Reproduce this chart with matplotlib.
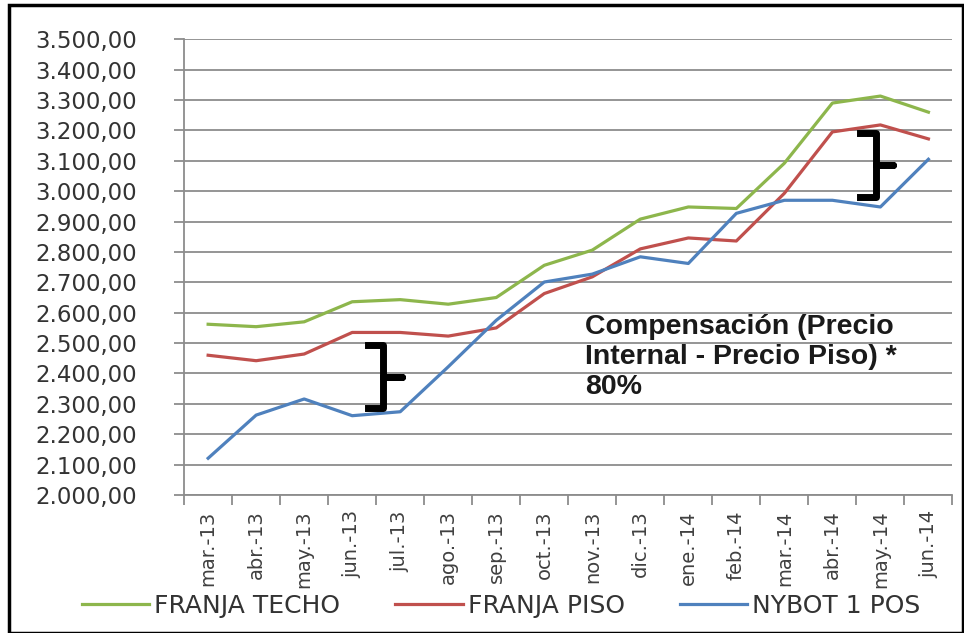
import matplotlib
matplotlib.use("Agg")
import matplotlib.pyplot as plt
from matplotlib.patches import Rectangle

# months on the x axis
months = ["mar.-13", "abr.-13", "may.-13", "jun.-13", "jul.-13", "ago.-13",
          "sep.-13", "oct.-13", "nov.-13", "dic.-13", "ene.-14", "feb.-14",
          "mar.-14", "abr.-14", "may.-14", "jun.-14"]

franja_techo = [2562, 2554, 2570, 2636, 2643, 2628, 2650, 2756, 2806, 2908,
                2948, 2943, 3092, 3290, 3313, 3260]
franja_piso = [2460, 2442, 2464, 2535, 2535, 2523, 2550, 2663, 2718, 2810,
               2846, 2836, 2993, 3195, 3218, 3172]
nybot = [2121, 2263, 2316, 2261, 2274, 2422, 2575, 2701, 2727, 2784,
         2762, 2927, 2970, 2970, 2948, 3105]

label_text = "Compensación (Precio\nInternal - Precio Piso) *\n80%"


def fmt_es(v, pos):
    s = f"{v:,.2f}"
    return s.replace(",", "X").replace(".", ",").replace("X", ".")


fig = plt.figure(figsize=(9.64, 6.33), dpi=100)
ax = fig.add_axes([0.191, 0.218, 0.797, 0.72])

x = list(range(len(months)))
ax.plot(x, franja_techo, color="#8DB64C", lw=2.3, label="FRANJA TECHO", zorder=3)
ax.plot(x, franja_piso, color="#C0504D", lw=2.3, label="FRANJA PISO", zorder=3)
ax.plot(x, nybot, color="#4F81BD", lw=2.3, label="NYBOT 1 POS", zorder=3)

ax.set_xlim(-0.5, len(months) - 0.5)
ax.set_ylim(2000, 3500)
ax.set_yticks(range(2000, 3501, 100))
ax.yaxis.set_major_formatter(plt.FuncFormatter(fmt_es))
ax.grid(axis="y", color="#8c8c8c", lw=1.3)
ax.set_axisbelow(True)

ax.set_xticks(x)
ax.set_xticklabels(months, rotation=90, fontsize=14, color="#404040")
ax.set_xticks([i - 0.5 for i in range(len(months) + 1)], minor=True)
ax.tick_params(axis="x", which="major", length=0, pad=11)
ax.tick_params(axis="x", which="minor", length=7, color="#8c8c8c", width=1.3)
ax.tick_params(axis="y", length=7, color="#8c8c8c", width=1.3, pad=27,
               labelsize=16.5, labelcolor="#333333")

for side in ["top", "right"]:
    ax.spines[side].set_visible(False)
ax.spines["left"].set_color("#8c8c8c")
ax.spines["bottom"].set_color("#8c8c8c")
ax.spines["left"].set_linewidth(1.3)
ax.spines["bottom"].set_linewidth(1.3)

# braces marking the compensation gap
def brace(x0, xv, xt, ytop, ymid, ybot):
    ax.plot([x0, xv, xv, xt, xv, xv, x0],
            [ytop, ytop, ymid, ymid, ymid, ybot, ybot],
            color="black", lw=5, solid_joinstyle="round", zorder=4)

brace(3.33, 3.65, 4.04, 2495, 2388, 2285)
brace(13.58, 13.9, 14.27, 3190, 3085, 2980)

ax.text(7.85, 2597, label_text, fontsize=20.5, fontweight="bold",
        family="Liberation Sans", color="#1a1a1a", va="top", ha="left",
        linespacing=1.2, zorder=5)

fig.legend(loc="lower center", bbox_to_anchor=(0.52, -0.012), ncol=3,
           frameon=False, fontsize=18, handlelength=2.7, handletextpad=0.2,
           columnspacing=2.2, labelcolor="#333333")

fig.add_artist(Rectangle((0.009, 0.0), 0.99, 0.992, transform=fig.transFigure,
                         fill=False, edgecolor="black", lw=2.5))

fig.savefig("out.png", dpi=100)
